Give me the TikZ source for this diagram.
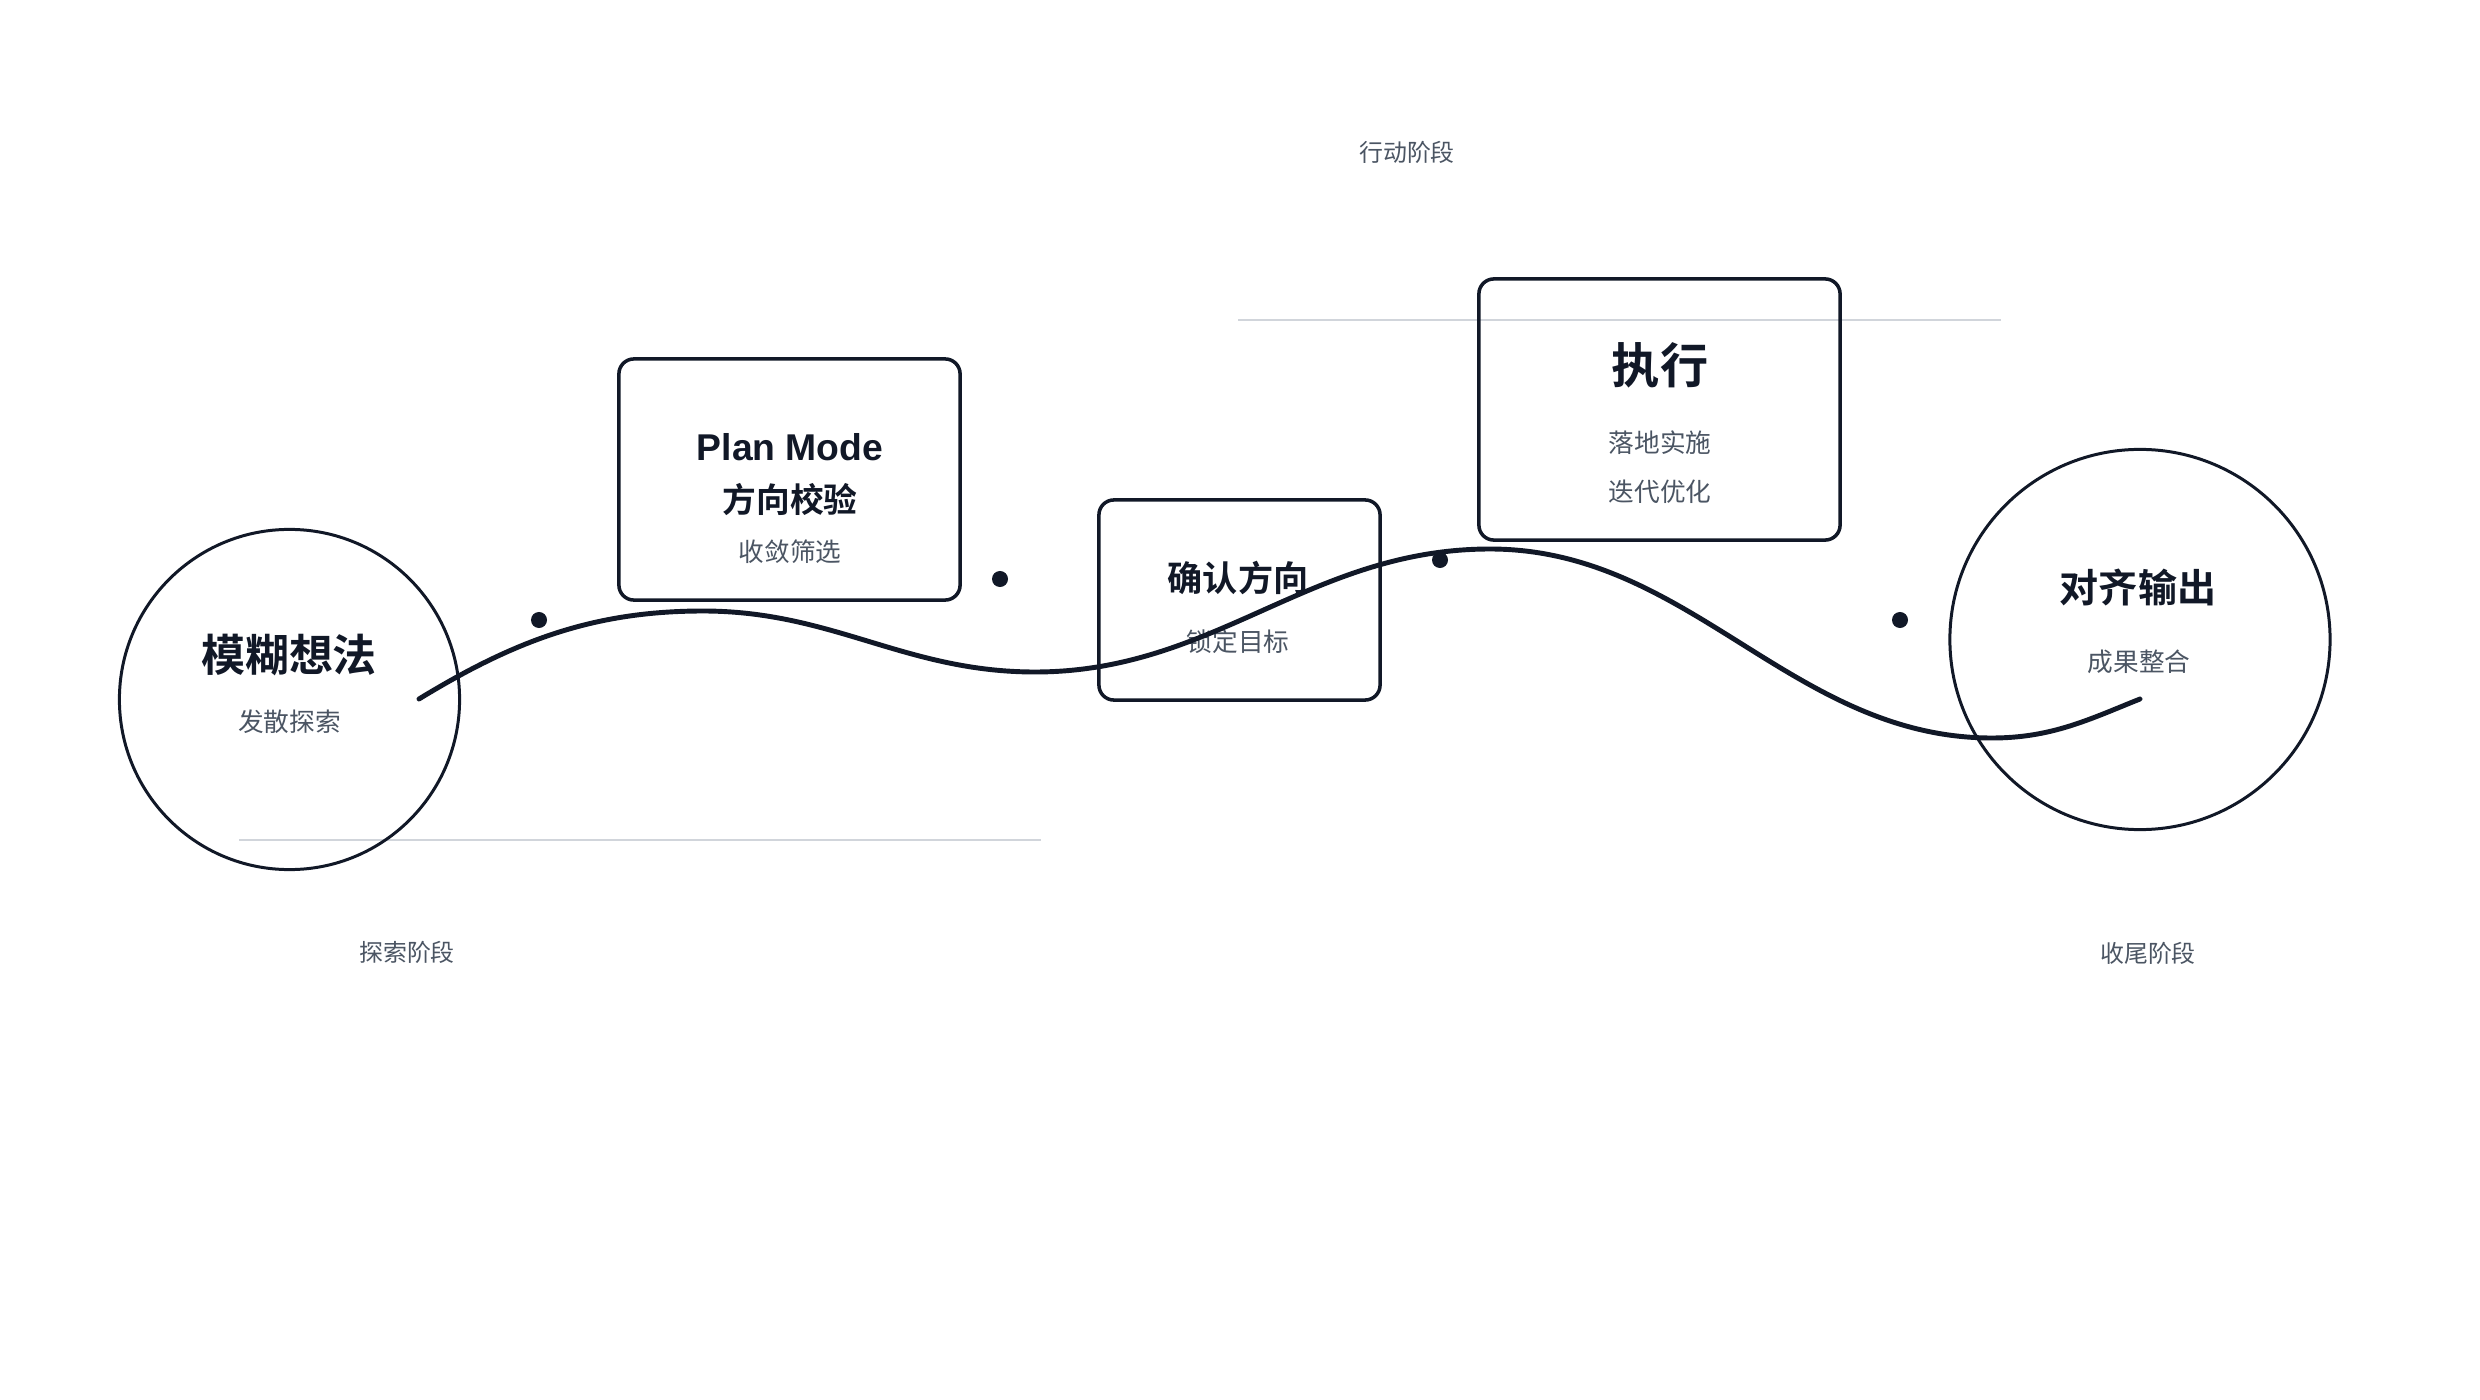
\documentclass[tikz,border=0pt]{standalone}
\usepackage{fontspec}
\newfontfamily\cjk{Noto Sans CJK SC}[BoldFont={Noto Sans CJK SC Bold}]
\newfontfamily\latinsans{Liberation Sans}
\definecolor{ink}{HTML}{111827}
\definecolor{subink}{HTML}{4B5563}
\definecolor{rulegray}{HTML}{D1D5DB}
\begin{document}
\begin{tikzpicture}[x=.01cm,y=-.01cm,line width=.85pt,
  every node/.style={inner sep=0pt,outer sep=0pt,text=ink},
  stagering/.style={circle,draw=ink},
  stagebox/.style={rectangle,rounded corners=.15cm,draw=ink,line width=1pt},
  subtext/.style={font=\cjk\fontsize{7.3pt}{9pt}\selectfont,text=subink},
  phasetext/.style={font=\cjk\fontsize{6.8pt}{8pt}\selectfont,text=subink},
  waypt/.style={circle,fill=ink,minimum size=.16cm}]
  \path[use as bounding box] (0,0) rectangle (2480,1400);
  % phase rules
  \coordinate (r1a) at (239,840);
  \coordinate (r1b) at (1041,840);
  \coordinate (r2a) at (1238,320);
  \coordinate (r2b) at (2001,320);
  \draw[rulegray,line width=.7pt] (r1a)--(r1b) (r2a)--(r2b);
  % stages
  \node[stagering,minimum size=3.4cm] (idea) at (289.5,699.5) {};
  \node[stagebox,minimum width=3.41cm,minimum height=2.41cm] (plan) at (789.5,479.5) {};
  \node[stagebox,minimum width=2.81cm,minimum height=2cm] (confirm) at (1239.5,600) {};
  \node[stagebox,minimum width=3.61cm,minimum height=2.61cm] (exec) at (1659.5,409.5) {};
  \node[stagering,minimum size=3.8cm] (output) at (2140,639.5) {};
  % texts
  \node[font=\cjk\bfseries\fontsize{12.5pt}{14pt}\selectfont] (ideaT) at (289,655) {模糊想法};
  \node[subtext] (ideaS) at (289.5,722) {发散探索};
  \node[font=\latinsans\bfseries\fontsize{10.6pt}{12pt}\selectfont] (planT) at (790,447) {Plan Mode};
  \node[font=\cjk\bfseries\fontsize{9.6pt}{11pt}\selectfont] (planU) at (790,500) {方向校验};
  \node[subtext] (planS) at (790,552) {收敛筛选};
  \node[font=\cjk\bfseries\fontsize{10pt}{12pt}\selectfont] (confirmT) at (1238,578) {确认方向};
  \node[subtext] (confirmS) at (1238,642) {锁定目标};
  \node[font=\cjk\bfseries\fontsize{13.7pt}{15pt}\selectfont] (execT) at (1660,365) {执行};
  \node[subtext] (execS) at (1660,443) {落地实施};
  \node[subtext] (execU) at (1660,492) {迭代优化};
  \node[font=\cjk\bfseries\fontsize{11.1pt}{13pt}\selectfont] (outputT) at (2138,587) {对齐输出};
  \node[subtext] (outputS) at (2139,662) {成果整合};
  \node[phasetext] (phaseA) at (407,952) {探索阶段};
  \node[phasetext] (phaseB) at (1407,152) {行动阶段};
  \node[phasetext] (phaseC) at (2148,953) {收尾阶段};
  % path
  \coordinate (cs) at (419,699);
  \coordinate (pk1) at (703,611);
  \coordinate (tr1) at (1035,672);
  \coordinate (pk2) at (1490,549);
  \coordinate (tr2) at (1992,738);
  \coordinate (ce) at (2140,699);
  \draw[ink,line width=1.4pt,line cap=round]
    (cs) .. controls +(95,-58) and +(-110,0) .. (pk1)
    .. controls +(130,0) and +(-130,0) .. (tr1)
    .. controls +(180,0) and +(-180,0) .. (pk2)
    .. controls +(200,0) and +(-200,0) .. (tr2)
    .. controls +(60,0) and +(-50,20) .. (ce);
  \node[waypt] (d1) at (539,620) {};
  \node[waypt] (d2) at (1000,579) {};
  \node[waypt] (d3) at (1440,560) {};
  \node[waypt] (d4) at (1900,620) {};
\end{tikzpicture}
\end{document}
